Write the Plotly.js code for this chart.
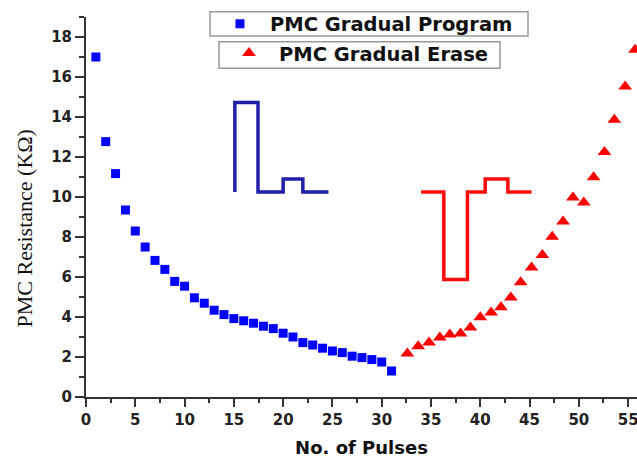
<!DOCTYPE html>
<html>
<head>
<meta charset="utf-8">
<script src="https://cdn.plot.ly/plotly-3.0.1.min.js"></script>
<style>html,body{margin:0;padding:0;background:#fff}#chart{width:637px;height:458px}</style>
</head>
<body>
<div id="chart"></div>
<script>
// Series: PMC Gradual Program (blue squares)
const programPulses = [1,2,3,4,5,6,7,8,9,10,11,12,13,14,15,16,17,18,19,20,21,22,23,24,25,26,27,28,29,30,31];
const programResistance = [17.0,12.77,11.17,9.35,8.30,7.50,6.83,6.38,5.78,5.54,4.96,4.69,4.34,4.12,3.92,3.81,3.69,3.54,3.42,3.19,3.00,2.72,2.60,2.44,2.30,2.22,2.04,1.97,1.87,1.75,1.30];

// Series: PMC Gradual Erase (red triangles)
const erasePulses = [32.6,33.7,34.8,35.9,36.9,38.0,39.0,40.0,41.1,42.1,43.1,44.1,45.2,46.3,47.3,48.4,49.4,50.5,51.5,52.6,53.6,54.7,55.7];
const eraseResistance = [2.17,2.54,2.72,2.97,3.12,3.17,3.47,3.99,4.22,4.49,4.98,5.74,6.48,7.10,8.01,8.78,9.97,9.73,10.99,12.25,13.86,15.52,17.36];

// Inset pulse waveforms (drawn in data coordinates)
const programWaveX = [15.1,15.1,17.45,17.45,20.0,20.0,22.0,22.0,24.6];
const programWaveY = [10.25,14.72,14.72,10.25,10.25,10.9,10.9,10.25,10.25];
const eraseWaveX = [34.0,36.3,36.3,38.7,38.7,40.5,40.5,42.8,42.8,45.2];
const eraseWaveY = [10.25,10.25,5.88,5.88,10.25,10.25,10.9,10.9,10.25,10.25];

// Axis ticks
const xTickVals = [0,5,10,15,20,25,30,35,40,45,50,55];
const yTickVals = [0,2,4,6,8,10,12,14,16,18];

const traces = [
  {x: programWaveX, y: programWaveY, mode: 'lines', line: {color: '#1f1fa8', width: 3.5}, showlegend: false, hoverinfo: 'skip'},
  {x: eraseWaveX, y: eraseWaveY, mode: 'lines', line: {color: '#ff0a0a', width: 3.5}, showlegend: false, hoverinfo: 'skip'},
  {x: programPulses, y: programResistance, mode: 'markers', name: 'PMC Gradual Program',
   marker: {symbol: 'square', size: 9, color: '#0000ff'}, legend: 'legend'},
  {x: erasePulses, y: eraseResistance, mode: 'markers', name: 'PMC Gradual Erase',
   marker: {symbol: 'triangle-up', size: 12, color: '#ff0000'}, legend: 'legend2'}
];

const tickFont = {family: 'DejaVu Sans, sans-serif', size: 15, weight: 'bold', color: '#222'};
const legendFont = {family: 'DejaVu Sans, sans-serif', size: 19.5, weight: 'bold', color: '#111'};
const boxLine = {color: '#999', width: 1.5};

const layout = {
  width: 637, height: 458,
  margin: {l: 86, r: 0, t: 17, b: 61},
  paper_bgcolor: '#fff', plot_bgcolor: '#fff',
  showlegend: true,
  xaxis: {
    range: [0, 55.9], tickvals: xTickVals, ticks: 'outside', ticklen: 8, tickwidth: 2, tickcolor: '#333',
    showline: true, linecolor: '#333', linewidth: 2, showgrid: false, zeroline: false,
    tickfont: tickFont, ticklabeloverflow: 'allow',
    minor: {dtick: 2.5, tick0: 0, ticks: 'outside', ticklen: 4, tickwidth: 2, tickcolor: '#333', showgrid: false},
    title: {text: 'No. of Pulses', font: {family: 'DejaVu Sans, sans-serif', size: 18, weight: 'bold', color: '#111'}, standoff: 14}
  },
  yaxis: {
    range: [0, 19], tickvals: yTickVals, ticks: 'outside', ticklen: 9, tickwidth: 2, tickcolor: '#333',
    showline: true, linecolor: '#333', linewidth: 2, showgrid: false, zeroline: false,
    tickfont: tickFont,
    minor: {dtick: 1, tick0: 0, ticks: 'outside', ticklen: 5, tickwidth: 2, tickcolor: '#333', showgrid: false}
  },
  legend: {x: 0.225, y: 1.033, xanchor: 'left', yanchor: 'top', bgcolor: 'rgba(0,0,0,0)', borderwidth: 0,
           font: legendFont, itemwidth: 50},
  legend2: {x: 0.2414, y: 0.956, xanchor: 'left', yanchor: 'top', bgcolor: 'rgba(0,0,0,0)', borderwidth: 0,
           font: legendFont, itemwidth: 50},
  shapes: [
    {type: 'rect', xref: 'paper', yref: 'paper', x0: 0.2250, x1: 0.8022, y0: 0.950, y1: 1.014, line: boxLine, fillcolor: '#fff', layer: 'below'},
    {type: 'rect', xref: 'paper', yref: 'paper', x0: 0.2414, x1: 0.7514, y0: 0.8649, y1: 0.9349, line: boxLine, fillcolor: '#fff', layer: 'below'}
  ],
  annotations: [{
    text: 'PMC Resistance (KΩ)', xref: 'paper', yref: 'paper', x: -0.111, y: 0.443,
    xanchor: 'center', yanchor: 'middle', textangle: -90, showarrow: false,
    font: {family: 'Liberation Serif, Times New Roman, serif', size: 22, color: '#111'}
  }]
};

Plotly.newPlot('chart', traces, layout, {displayModeBar: false, staticPlot: true});
</script>
</body>
</html>
